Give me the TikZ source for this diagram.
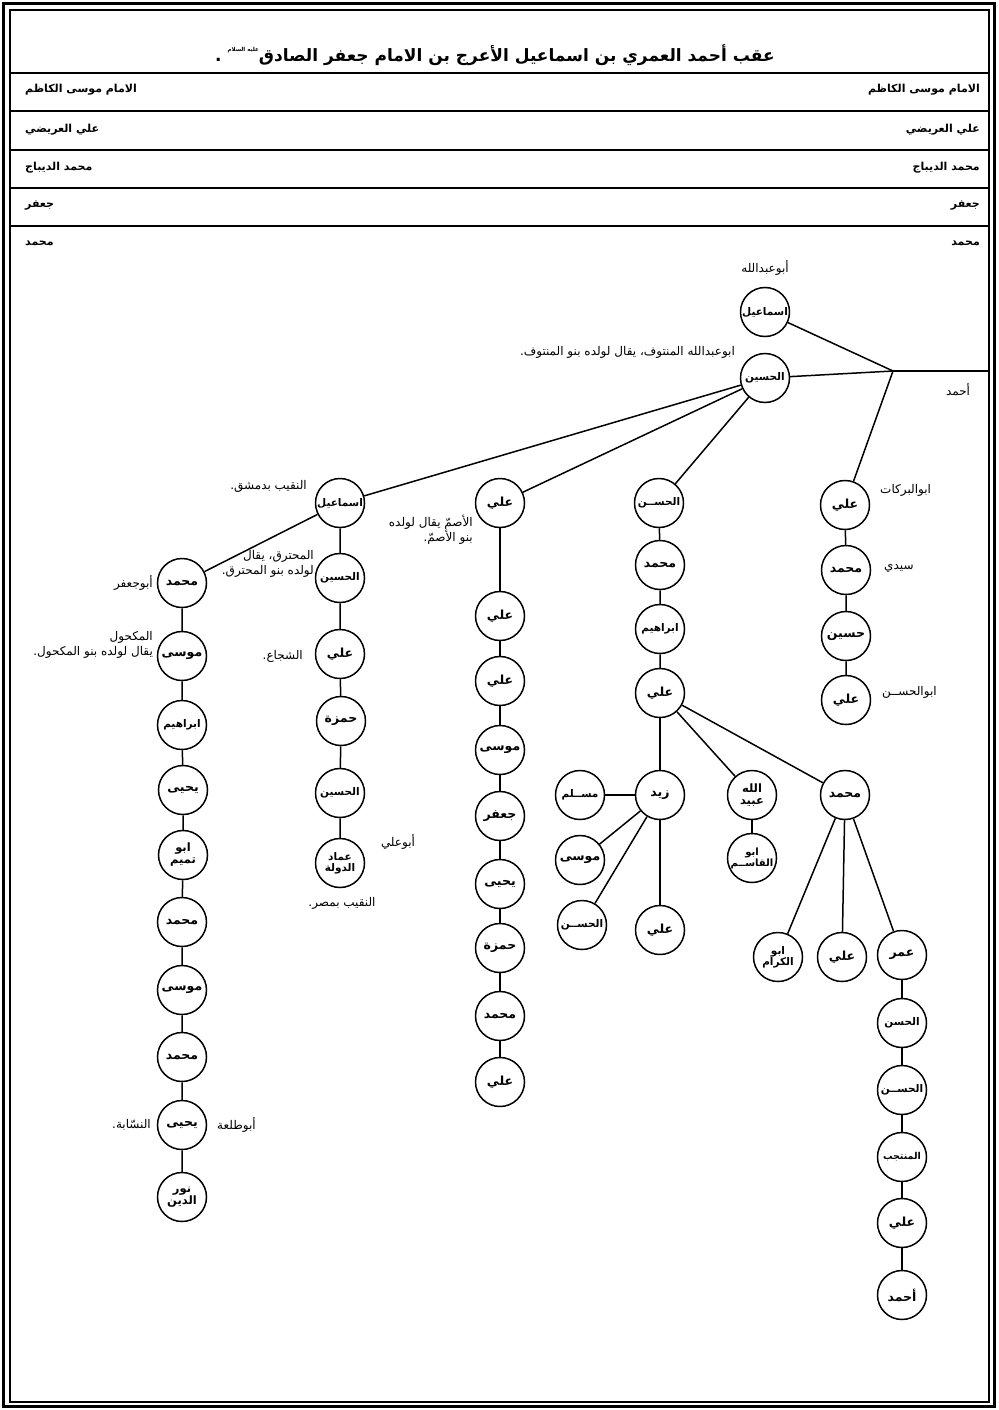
\documentclass[tikz,border=0pt]{standalone}
\usepackage{fontspec}
\newfontfamily\arabicfont[Script=Arabic]{DejaVu Sans}
\TeXXeTstate=1
\begin{document}
\begin{tikzpicture}[x=1pt,y=-1pt,
  person/.style={circle, draw, line width=1.5pt, minimum size=49pt, inner sep=0pt,
    font=\arabicfont\bfseries\fontsize{12.5}{13}\selectfont},
  long/.style={font=\arabicfont\bfseries\fontsize{10.5}{11}\selectfont},
  person2/.style={person, align=center, font=\arabicfont\bfseries\fontsize{11.5}{12}\selectfont},
  note/.style={inner sep=0pt, font=\arabicfont\fontsize{12}{15}\selectfont},
  hdr/.style={inner sep=0pt, font=\arabicfont\bfseries\fontsize{11}{12}\selectfont},
  link/.style={line width=1.5pt}]
\useasboundingbox (0,0) rectangle (998,1410);
% frame
\draw[line width=3.5pt] (3.5,3.5) rectangle (994.5,1406.5);
\draw[line width=1.2pt] (10,10) rectangle (989,1402);
\foreach \yy in {73,111,150,188,226} \draw[line width=1.2pt] (10,\yy) -- (989,\yy);
% title
\node[inner sep=0pt, font=\arabicfont\bfseries\fontsize{17}{20}\selectfont] (title) at (495,55)
  {\beginR عقب أحمد العمري بن اسماعيل الأعرج بن الامام جعفر الصادق\raisebox{1.1ex}{\fontsize{5.5}{6}\selectfont\beginR عليه السلام\endR} .\endR};
% header rows
\node[hdr, anchor=east] (hr1) at (980,90) {\beginR الامام موسى الكاظم\endR};
\node[hdr, anchor=west] (hl1) at (25,90) {\beginR الامام موسى الكاظم\endR};
\node[hdr, anchor=east] (hr2) at (980,130) {\beginR علي العريضي\endR};
\node[hdr, anchor=west] (hl2) at (25,130) {\beginR علي العريضي\endR};
\node[hdr, anchor=east] (hr3) at (980,168) {\beginR محمد الديباج\endR};
\node[hdr, anchor=west] (hl3) at (25,168) {\beginR محمد الديباج\endR};
\node[hdr, anchor=east] (hr4) at (980,205) {\beginR جعفر\endR};
\node[hdr, anchor=west] (hl4) at (25,205) {\beginR جعفر\endR};
\node[hdr, anchor=east] (hr5) at (980,243) {\beginR محمد\endR};
\node[hdr, anchor=west] (hl5) at (25,243) {\beginR محمد\endR};
% top
\node[person, long] (ismA) at (765,312) {\beginR اسماعيل\endR};
\node[person, long] (husA) at (765,378) {\beginR الحسين\endR};
\coordinate (j) at (893,371);
\coordinate (je) at (989,371);
\node[note] (nAbu) at (765,268) {\beginR أبوعبدالله\endR};
\node[note, anchor=east] (nMant) at (735,352) {\beginR ابوعبدالله المنتوف، يقال لولده بنو المنتوف.\endR};
\node[note] (nAhmad) at (958,390) {\beginR أحمد\endR};
% right branch
\node[person] (r1) at (845,505) {\beginR علي\endR};
\node[person] (r2) at (846,570) {\beginR محمد\endR};
\node[person] (r3) at (846,636) {\beginR حسين\endR};
\node[person] (r4) at (846,700) {\beginR علي\endR};
\node[note, anchor=west] (nr1) at (880,490) {\beginR ابوالبركات\endR};
\node[note, anchor=west] (nr2) at (884,568) {\beginR سيدي\endR};
\node[note, anchor=west] (nr4) at (882,692) {\beginR ابوالحســن\endR};
% Hasan branch
\node[person, long] (h1) at (659,503) {\beginR الحســن\endR};
\node[person] (h2) at (660,565) {\beginR محمد\endR};
\node[person, long] (h3) at (660,629) {\beginR ابراهيم\endR};
\node[person] (h4) at (660,693) {\beginR علي\endR};
\node[person] (z) at (660,795) {\beginR زيد\endR};
\node[person, long] (zm) at (580,795) {\beginR مســلم\endR};
\node[person] (zmu) at (580,860) {\beginR موسى\endR};
\node[person, long] (zh) at (582,925) {\beginR الحســن\endR};
\node[person] (za) at (660,930) {\beginR علي\endR};
\node[person2] (ub) at (752,795) {\beginR الله\endR\\\beginR عبيد\endR};
\node[person2, font=\arabicfont\bfseries\fontsize{10}{11}\selectfont] (uq) at (752,858) {\beginR ابو\endR\\\beginR القاســم\endR};
\node[person] (m) at (845,795) {\beginR محمد\endR};
\node[person2, font=\arabicfont\bfseries\fontsize{10.5}{11}\selectfont] (mk) at (778,957) {\beginR ابو\endR\\\beginR الكرام\endR};
\node[person] (ma) at (842,957) {\beginR علي\endR};
\node[person] (mo) at (902,955) {\beginR عمر\endR};
\node[person, long] (o1) at (902,1023) {\beginR الحسن\endR};
\node[person, long] (o2) at (902,1090) {\beginR الحســن\endR};
\node[person, font=\arabicfont\bfseries\fontsize{9.5}{10}\selectfont] (o3) at (902,1157) {\beginR المنتجب\endR};
\node[person] (o4) at (902,1223) {\beginR علي\endR};
\node[person] (o5) at (902,1295) {\beginR أحمد\endR};
% middle branch
\node[person] (c1) at (500,503) {\beginR علي\endR};
\node[person] (c2) at (500,616) {\beginR علي\endR};
\node[person] (c3) at (500,681) {\beginR علي\endR};
\node[person] (c4) at (500,750) {\beginR موسى\endR};
\node[person] (c5) at (500,816) {\beginR جعفر\endR};
\node[person] (c6) at (500,884) {\beginR يحيى\endR};
\node[person] (c7) at (500,948) {\beginR حمزة\endR};
\node[person] (c8) at (500,1016) {\beginR محمد\endR};
\node[person] (c9) at (500,1082) {\beginR علي\endR};
\node[note, anchor=north east, align=right] (nc1) at (473,515) {\beginR الأصمّ يقال لولده\endR\\\beginR بنو الأصمّ.\endR};
% Ismail branch
\node[person, long] (i1) at (340,503) {\beginR اسماعيل\endR};
\node[person, long] (i2) at (340,578) {\beginR الحسين\endR};
\node[person] (i3) at (340,654) {\beginR علي\endR};
\node[person] (i4) at (341,721) {\beginR حمزة\endR};
\node[person, long] (i5) at (340,793) {\beginR الحسين\endR};
\node[person2, font=\arabicfont\bfseries\fontsize{10.5}{11}\selectfont] (i6) at (340,863) {\beginR عماد\endR\\\beginR الدولة\endR};
\node[note, anchor=east] (ni1) at (307,486) {\beginR النقيب بدمشق.\endR};
\node[note, anchor=north east, align=right] (ni2) at (314,550) {\beginR المحترق، يقال\endR\\\beginR لولده بنو المحترق.\endR};
\node[note, anchor=east] (ni3) at (303,656) {\beginR الشجاع.\endR};
\node[note] (ni6a) at (398,842) {\beginR أبوعلي\endR};
\node[note] (ni6b) at (342,903) {\beginR النقيب بمصر.\endR};
% left branch
\node[person] (l1) at (182,583) {\beginR محمد\endR};
\node[person] (l2) at (182,656) {\beginR موسى\endR};
\node[person, long] (l3) at (182,725) {\beginR ابراهيم\endR};
\node[person] (l4) at (183,790) {\beginR يحيى\endR};
\node[person2] (l5) at (183,855) {\beginR ابو\endR\\\beginR تميم\endR};
\node[person] (l6) at (182,922) {\beginR محمد\endR};
\node[person] (l7) at (182,990) {\beginR موسى\endR};
\node[person] (l8) at (182,1057) {\beginR محمد\endR};
\node[person] (l9) at (182,1125) {\beginR يحيى\endR};
\node[person2] (l10) at (182,1197) {\beginR نور\endR\\\beginR الدين\endR};
\node[note, anchor=east] (nl1) at (153,583) {\beginR أبوجعفر\endR};
\node[note, anchor=north east, align=right] (nl2) at (153,631) {\beginR المكحول\endR\\\beginR يقال لولده بنو المكحول.\endR};
\node[note, anchor=west] (nl9a) at (217,1125) {\beginR أبوطلعة\endR};
\node[note, anchor=east] (nl9b) at (151,1125) {\beginR النسّابة.\endR};
% connectors
\draw[link] (ismA) -- (j);
\draw[link] (husA) -- (j);
\draw[link] (j) -- (r1);
\draw[link] (j) -- (je);
\draw[link] (r1) -- (r2) -- (r3) -- (r4);
\draw[link] (husA) -- (h1);
\draw[link] (husA) -- (c1);
\draw[link] (husA) -- (i1);
\draw[link] (h1) -- (h2) -- (h3) -- (h4);
\draw[link] (h4) -- (z);
\draw[link] (h4) -- (ub);
\draw[link] (h4) -- (m);
\draw[link] (z) -- (zm);
\draw[link] (z) -- (zmu);
\draw[link] (z) -- (zh);
\draw[link] (z) -- (za);
\draw[link] (ub) -- (uq);
\draw[link] (m) -- (mk);
\draw[link] (m) -- (ma);
\draw[link] (m) -- (mo);
\draw[link] (mo) -- (o1) -- (o2) -- (o3) -- (o4) -- (o5);
\draw[link] (c1) -- (c2) -- (c3) -- (c4) -- (c5) -- (c6) -- (c7) -- (c8) -- (c9);
\draw[link] (i1) -- (i2) -- (i3) -- (i4) -- (i5) -- (i6);
\draw[link] (i1) -- (l1);
\draw[link] (l1) -- (l2) -- (l3) -- (l4) -- (l5) -- (l6) -- (l7) -- (l8) -- (l9) -- (l10);
\end{tikzpicture}
\end{document}
